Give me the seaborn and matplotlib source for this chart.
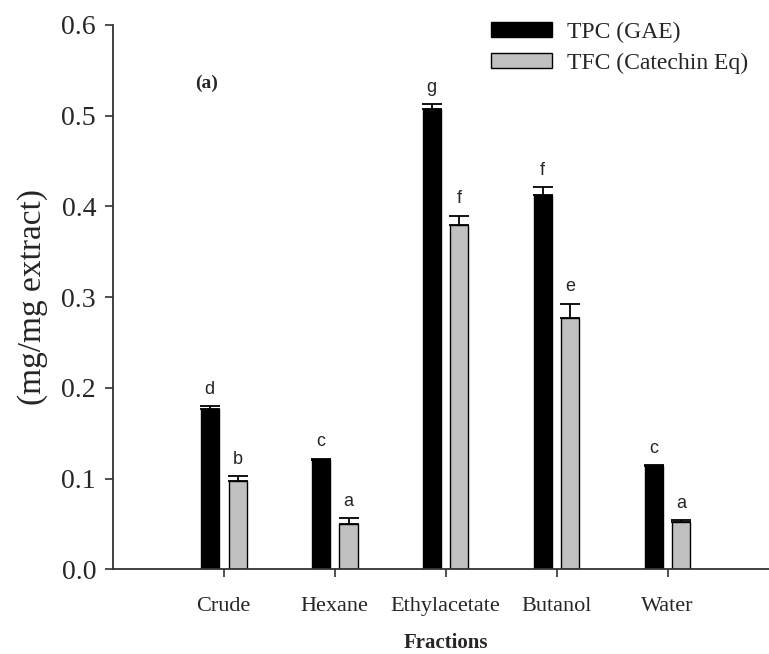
import numpy as np
import pandas as pd
import matplotlib
matplotlib.use("Agg")
import matplotlib.pyplot as plt
import seaborn as sns
from matplotlib.patches import Patch

sns.set_theme(style="white")
plt.rcParams['font.family'] = ['Liberation Serif', 'DejaVu Serif']

fractions = ["Crude", "Hexane", "Ethylacetate", "Butanol", "Water"]
series = ["TPC (GAE)", "TFC (Catechin Eq)"]
tpc = [0.177, 0.121, 0.507, 0.413, 0.114]
tpc_err = [0.0026, 0.001, 0.006, 0.008, 0.001]
tfc = [0.097, 0.050, 0.379, 0.277, 0.052]
tfc_err = [0.0055, 0.0066, 0.011, 0.016, 0.0026]
tpc_letters = ["d", "c", "g", "f", "c"]
tfc_letters = ["b", "a", "f", "e", "a"]
yticks = [0.0, 0.1, 0.2, 0.3, 0.4, 0.5, 0.6]

df = pd.DataFrame({
    "Fraction": fractions * 2,
    "Series": [series[0]] * 5 + [series[1]] * 5,
    "Value": tpc + tfc,
})

W, H = 769, 654
fig = plt.figure(figsize=(W / 100, H / 100), dpi=100)
ax = fig.add_axes([112.7 / W, 1 - 569.3 / H, (778.5 - 112.7) / W, (569.3 - 25) / H])

colors = {series[0]: "#000000", series[1]: "#c0c0c0"}
sns.barplot(data=df, x="Fraction", y="Value", hue="Series", order=fractions,
            hue_order=series, palette=colors, width=0.5, gap=0.35,
            edgecolor="black", linewidth=1.0, errorbar=None, legend=False, ax=ax)

# error bars (upper only) + letters
bars_by_series = [ax.containers[0], ax.containers[1]]
for cont, errs, letters in zip(bars_by_series, [tpc_err, tfc_err], [tpc_letters, tfc_letters]):
    for patch, e, lt in zip(cont, errs, letters):
        cx = patch.get_x() + patch.get_width() / 2
        top = patch.get_height()
        ax.errorbar([cx], [top], yerr=[[0], [e]], fmt="none", ecolor="black",
                    elinewidth=1.3, capsize=7, capthick=1.3)
        ax.text(cx, top + e + 0.009, lt, ha="center", va="bottom",
                fontsize=13, family=["Liberation Sans", "DejaVu Sans"])

ax.set_xlim(-1, 5)
ax.set_ylim(0, 0.6)
ax.set_yticks(yticks)
ax.set_yticklabels([f"{t:.1f}" for t in yticks], fontsize=20)
ax.tick_params(axis="x", labelsize=16, length=6, width=1.2, direction="out", pad=14, color="#333333")
ax.tick_params(axis="y", length=6, width=1.2, direction="out", pad=6, color="#333333")
ax.tick_params(bottom=True, left=True)
for s in ["top", "right"]:
    ax.spines[s].set_visible(False)
for s in ["left", "bottom"]:
    ax.spines[s].set_color("#333333")
    ax.spines[s].set_linewidth(1.3)

ax.set_xlabel("Fractions", fontsize=15, fontweight="bold", labelpad=12)
ax.set_ylabel("(mg/mg extract)", fontsize=24, labelpad=10)
ax.text(195 / W, 1 - 83 / H, "(a)", transform=fig.transFigure, fontsize=14,
        fontweight="bold", va="center", ha="left")

handles = [Patch(facecolor=colors[s], edgecolor="black", linewidth=1.0) for s in series]
fig.legend(handles, series, loc="upper left", bbox_to_anchor=(491 / W, 1 - 22 / H),
           frameon=False, fontsize=17, handlelength=2.6, handleheight=0.6,
           handletextpad=0.6, labelspacing=0.4, borderpad=0, borderaxespad=0)

fig.savefig("out.png", dpi=100)
